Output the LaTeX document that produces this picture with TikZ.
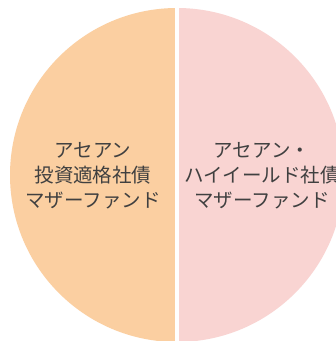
\documentclass[tikz,border=0pt]{standalone}
\usepackage{fontspec}
\newfontfamily\jpfont{Noto Sans CJK JP}
\definecolor{leftc}{HTML}{FBCFA1}
\definecolor{rightc}{HTML}{F9D4D2}
\definecolor{txtc}{HTML}{404040}
\tikzset{lbl/.style={align=center, text=txtc, font=\jpfont\fontsize{19.5pt}{25pt}\selectfont, inner sep=0pt}}
\begin{document}
\begin{tikzpicture}[x=1pt,y=-1pt]
\useasboundingbox (0,0) rectangle (336,341);
\fill[white] (0,0) rectangle (336,341);
\clip (0,0) rectangle (336,341);
\begin{scope}
\clip (0,0) rectangle (177,341);
\fill[leftc] (177,175) circle (167pt);
\end{scope}
\begin{scope}
\clip (177,0) rectangle (336,341);
\fill[rightc] (177,175) circle (167pt);
\end{scope}
\fill[white] (175,0) rectangle (179,341);
\node[lbl] (left) at (93,176) {アセアン\\投資適格社債\\マザーファンド};
\node[lbl] (right) at (262,176) {アセアン・\\ハイイールド社債\\マザーファンド};
\end{tikzpicture}
\end{document}
